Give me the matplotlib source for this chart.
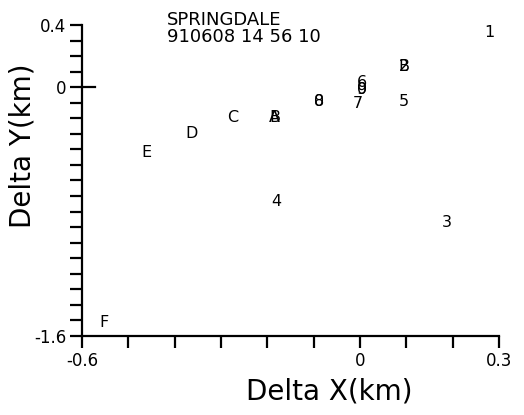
import matplotlib
matplotlib.use('Agg')
import matplotlib.pyplot as plt
from matplotlib.ticker import FixedLocator, MultipleLocator

# station offsets, one label per event (several share a spot)
labels = ['1', '2', 'B', '3', '4', '5', '6', '9', '0', '7', '8', '0',
          'A', 'B', 'C', 'D', 'E', 'F']
dx = [0.279, 0.095, 0.095, 0.188, -0.181, 0.095, 0.004, 0.004, 0.004,
      -0.004, -0.089, -0.089, -0.184, -0.184, -0.274, -0.363, -0.460, -0.553]
dy = [0.349, 0.130, 0.130, -0.867, -0.738, -0.095, 0.033, -0.018, -0.018,
      -0.103, -0.089, -0.089, -0.198, -0.198, -0.198, -0.295, -0.417, -1.516]

station = 'SPRINGDALE'
stamp = '910608 14 56 10'
xticks = [-0.6, 0.0, 0.3]
xtick_labels = ['-0.6', '0', '0.3']
yticks = [-1.6, 0.0, 0.4]
ytick_labels = ['-1.6', '0', '0.4']

fig = plt.figure(figsize=(5.24, 4.15), dpi=100)
ax = fig.add_axes([0.1565, 0.1904, 0.7958, 0.7494])

for lab, x, y in zip(labels, dx, dy):
    ax.text(x, y, lab, ha='center', va='center', fontsize=11.5)

ax.set_xlim(-0.6, 0.3)
ax.set_ylim(-1.6, 0.4)

ax.spines['top'].set_visible(False)
ax.spines['right'].set_visible(False)
for s in ('left', 'bottom'):
    ax.spines[s].set_linewidth(1.6)

ax.xaxis.set_major_locator(FixedLocator(xticks))
ax.xaxis.set_minor_locator(MultipleLocator(0.1))
ax.yaxis.set_major_locator(FixedLocator(yticks))
ax.yaxis.set_minor_locator(MultipleLocator(0.1))
ax.set_xticklabels(xtick_labels)
ax.set_yticklabels(ytick_labels)
ax.tick_params(which='both', direction='out', width=1.6, length=8.5,
               labelsize=12, pad=3)

# zero tick on y runs through the spine
ax.plot([0, 0.03], [0, 0], color='black', lw=1.6, clip_on=False,
        transform=ax.get_yaxis_transform())

ax.set_xlabel('Delta X(km)', fontsize=20)
ax.xaxis.set_label_coords(0.592, -0.135)
ax.set_ylabel('Delta Y(km)', fontsize=20)
ax.yaxis.set_label_coords(-0.11, 0.611)

fig.text(167 / 524, 1 - 11 / 415, station + '\n' + stamp, fontsize=13,
         va='top', linespacing=0.9)

fig.savefig('out.png', dpi=100, facecolor='white')
